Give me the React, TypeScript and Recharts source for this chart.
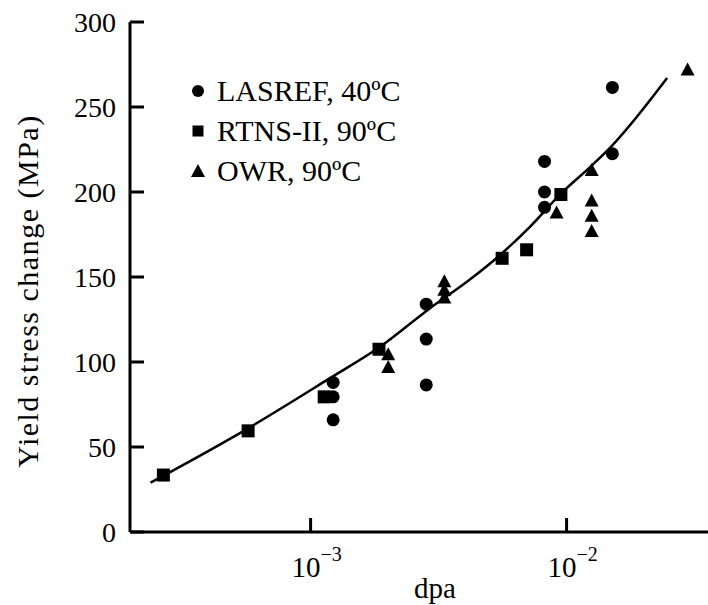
import { ScatterChart, Scatter, XAxis, YAxis, Legend } from 'recharts';

// LASREF, 40ºC
const lasrefDpa = [1.225e-3, 1.225e-3, 1.225e-3, 2.83e-3, 2.83e-3, 2.83e-3, 8.2e-3, 8.2e-3, 8.2e-3, 1.51e-2, 1.51e-2];
const lasrefStress = [88, 79.5, 66, 134, 113.5, 86.5, 218, 200, 191, 261.5, 222.5];

// RTNS-II, 90ºC
const rtnsDpa = [2.66e-4, 5.7e-4, 1.13e-3, 1.85e-3, 5.6e-3, 6.98e-3, 9.5e-3];
const rtnsStress = [33.5, 59.5, 79.5, 107.5, 161, 166, 198.5];

// OWR, 90ºC
const owrDpa = [2.01e-3, 2.01e-3, 3.33e-3, 3.33e-3, 3.33e-3, 9.14e-3, 1.253e-2, 1.253e-2, 1.253e-2, 1.253e-2, 2.97e-2];
const owrStress = [104.5, 97, 147.5, 142.5, 138, 188, 213, 195, 186, 177, 272];

// fitted curve
const fitDpa = [2.37e-4, 5.7e-4, 1.19e-3, 1.85e-3, 2.92e-3, 4.19e-3, 5.6e-3, 7.19e-3, 9.5e-3, 1.253e-2, 1.5e-2, 2.47e-2];
const fitStress = [29, 61, 90.5, 108.5, 131.5, 148.5, 164, 179.5, 199, 215.5, 227, 267];

const seriesNames = ['LASREF, 40ºC', 'RTNS-II, 90ºC', 'OWR, 90ºC'];
const xTicks = [1e-3, 1e-2];
const yTicks = [0, 50, 100, 150, 200, 250, 300];
const xDomain = [1.97e-4, 0.038];

const FONT = '"Liberation Serif", "Times New Roman", serif';

const toPoints = (xs: number[], ys: number[]) => xs.map((x, i) => ({ x, y: ys[i] }));

const lasrefData = toPoints(lasrefDpa, lasrefStress);
const rtnsData = toPoints(rtnsDpa, rtnsStress);
const owrData = toPoints(owrDpa, owrStress);
const fitData = toPoints(fitDpa, fitStress);

// eslint-disable-next-line @typescript-eslint/no-explicit-any
const CircleShape = (props: any) => <circle cx={props.cx} cy={props.cy} r={6.5} fill="#000" />;
// eslint-disable-next-line @typescript-eslint/no-explicit-any
const SquareShape = (props: any) => <rect x={props.cx - 6.5} y={props.cy - 6.5} width={13} height={13} fill="#000" />;
// eslint-disable-next-line @typescript-eslint/no-explicit-any
const TriangleShape = (props: any) => {
  const { cx, cy } = props;
  return <polygon points={`${cx},${cy - 7} ${cx + 7},${cy + 6} ${cx - 7},${cy + 6}`} fill="#000" />;
};
const NoShape = () => <g />;

// eslint-disable-next-line @typescript-eslint/no-explicit-any
const LeftTick = (props: any) => {
  const { x, y, payload } = props;
  return (
    <g>
      <line x1={x} x2={x + 14} y1={y} y2={y} stroke="#000" strokeWidth={3} />
      <text x={x - 14} y={y} dy="0.36em" textAnchor="end" fontFamily={FONT} fontSize={28} fill="#000">
        {payload.value}
      </text>
    </g>
  );
};

// eslint-disable-next-line @typescript-eslint/no-explicit-any
const RightTick = (props: any) => {
  const { x, y } = props;
  return <line x1={x} x2={x - 14} y1={y} y2={y} stroke="#000" strokeWidth={3} />;
};

// eslint-disable-next-line @typescript-eslint/no-explicit-any
const BottomTick = (props: any) => {
  const { x, y, payload } = props;
  const exp = Math.round(Math.log10(payload.value));
  return (
    <g>
      <line x1={x} x2={x} y1={y} y2={y - 14} stroke="#000" strokeWidth={3} />
      <text x={x + 6} y={y + 45} textAnchor="middle" fontFamily={FONT} fontSize={29} fill="#000">
        10
        <tspan dy={-16} fontSize={20}>
          {'\u2212' + Math.abs(exp)}
        </tspan>
      </text>
    </g>
  );
};

// eslint-disable-next-line @typescript-eslint/no-explicit-any
const TopTick = (props: any) => {
  const { x, y } = props;
  return <line x1={x} x2={x} y1={y} y2={y + 14} stroke="#000" strokeWidth={3} />;
};

const XTitle = () => (
  <text x={435} y={598} textAnchor="middle" fontFamily={FONT} fontSize={29} fill="#000">
    dpa
  </text>
);

const YTitle = () => (
  <text
    transform="translate(38, 291) rotate(-90)"
    textAnchor="middle"
    fontFamily={FONT}
    fontSize={30}
    letterSpacing={1.5}
    fill="#000"
    style={{ fill: '#000' }}
  >
    Yield stress change (MPa)
  </text>
);

const markers = [
  <circle key="c" cx={10} cy={10} r={6} fill="#000" />,
  <rect key="s" x={4.5} y={4.5} width={11} height={11} fill="#000" />,
  <polygon key="t" points="10,3 17,16 3,16" fill="#000" />,
];

const LegendBox = () => (
  <div style={{ fontFamily: FONT, fontSize: 30, color: '#000' }}>
    {seriesNames.map((name, i) => (
      <div key={name} style={{ display: 'flex', alignItems: 'center', height: 40 }}>
        <svg width={20} height={20}>{markers[i]}</svg>
        <span style={{ marginLeft: 9, lineHeight: '40px', whiteSpace: 'nowrap' }}>{name}</span>
      </div>
    ))}
  </div>
);

export default function App() {
  return (
    <div style={{ position: 'fixed', left: 0, top: 0, width: 708, height: 605, overflow: 'hidden', background: '#fff' }}>
      <ScatterChart width={740} height={605} margin={{ top: 22, right: 25, bottom: 0, left: 0 }}>
        <XAxis
          xAxisId="bottom"
          dataKey="x"
          type="number"
          scale="log"
          domain={xDomain}
          allowDataOverflow
          ticks={xTicks}
          interval={0}
          height={73}
          tickSize={0}
          tickMargin={0}
          tick={<BottomTick />}
          tickLine={false}
          axisLine={{ stroke: '#000', strokeWidth: 3 }}
          label={<XTitle />}
        />
        <XAxis
          xAxisId="top"
          orientation="top"
          dataKey="x"
          type="number"
          scale="log"
          domain={xDomain}
          allowDataOverflow
          ticks={xTicks}
          interval={0}
          height={0}
          tickSize={0}
          tickMargin={0}
          tick={<TopTick />}
          tickLine={false}
          axisLine={{ stroke: '#000', strokeWidth: 3 }}
        />
        <YAxis
          yAxisId="left"
          dataKey="y"
          type="number"
          domain={[0, 300]}
          ticks={yTicks}
          interval={0}
          width={130}
          tickSize={0}
          tickMargin={0}
          tick={<LeftTick />}
          tickLine={false}
          axisLine={{ stroke: '#000', strokeWidth: 3 }}
          label={<YTitle />}
        />
        <YAxis
          yAxisId="right"
          orientation="right"
          dataKey="y"
          type="number"
          domain={[0, 300]}
          ticks={yTicks}
          interval={0}
          width={0}
          tickSize={0}
          tickMargin={0}
          tick={<RightTick />}
          tickLine={false}
          axisLine={{ stroke: '#000', strokeWidth: 3 }}
        />
        <Legend
          layout="vertical"
          align="center"
          verticalAlign="middle"
          content={<LegendBox />}
          wrapperStyle={{ left: 188, top: 71, width: 300 }}
        />
        <Scatter
          name="fit"
          data={fitData}
          xAxisId="bottom"
          yAxisId="left"
          line={{ stroke: '#000', strokeWidth: 2.5 }}
          lineJointType="monotoneX"
          shape={<NoShape />}
          legendType="none"
          isAnimationActive={false}
        />
        <Scatter
          name={seriesNames[0]}
          data={lasrefData}
          xAxisId="bottom"
          yAxisId="left"
          shape={<CircleShape />}
          isAnimationActive={false}
        />
        <Scatter
          name={seriesNames[1]}
          data={rtnsData}
          xAxisId="bottom"
          yAxisId="left"
          shape={<SquareShape />}
          isAnimationActive={false}
        />
        <Scatter
          name={seriesNames[2]}
          data={owrData}
          xAxisId="bottom"
          yAxisId="left"
          shape={<TriangleShape />}
          isAnimationActive={false}
        />
      </ScatterChart>
    </div>
  );
}
